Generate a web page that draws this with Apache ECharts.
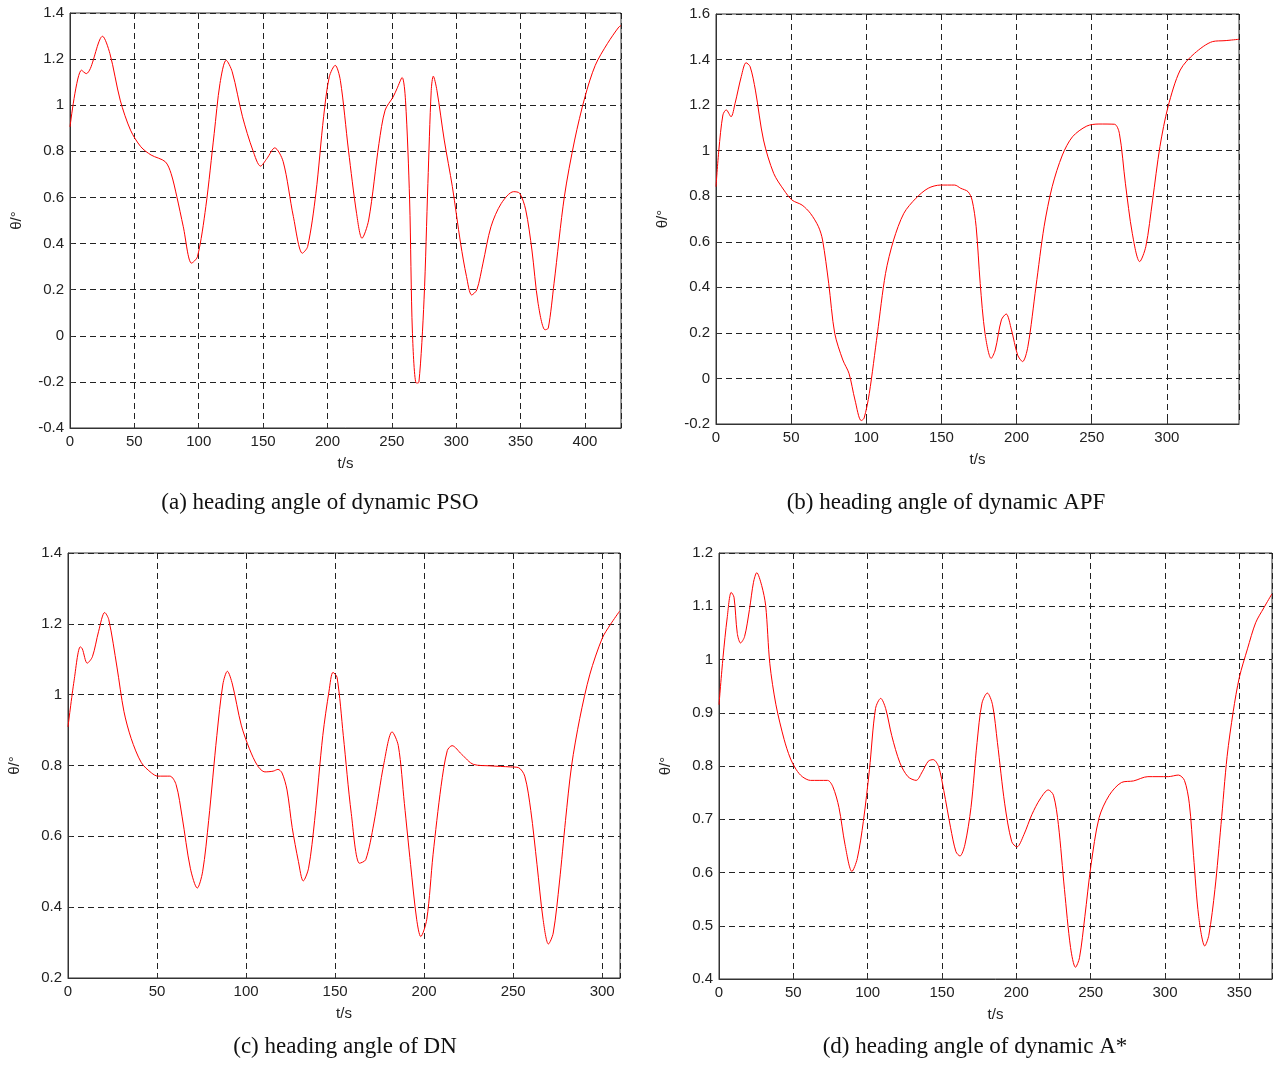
<!DOCTYPE html>
<html>
<head>
<meta charset="utf-8">
<script src="https://cdn.jsdelivr.net/npm/echarts@6/dist/echarts.min.js"></script>
<style>
html,body{margin:0;padding:0;background:#fff;}
#c{width:1277px;height:1066px;}
</style>
</head>
<body>
<div id="c"></div>
<script>
// ---- Data (t in s, theta in degrees) ----
const psoT = [0,8.9,12.7,15.8,25.3,31,39,47,55,63,74,78.5,83,88,94.4,99,105.5,112,116.5,121.3,126,134,142,148,153,159,165.6,173.5,180.5,184.6,191,197,201.4,206,210,216.3,222.6,226.8,232,240,244.8,251,254,258,260.6,263.8,266,269,271,275,278,280.6,282.2,285,290.7,297,303.4,308,312,316,320.8,327,335,344.6,349.3,354,358.8,363.6,369,371.5,376,384,392,400,408,417.4,426.3,428];
const psoV = [0.906,1.152,1.137,1.159,1.299,1.224,1.022,0.892,0.82,0.784,0.755,0.704,0.603,0.473,0.315,0.343,0.56,0.877,1.094,1.195,1.145,0.95,0.805,0.736,0.769,0.815,0.755,0.517,0.358,0.387,0.618,0.95,1.123,1.173,1.108,0.805,0.531,0.423,0.502,0.834,0.979,1.036,1.072,1.12,1.022,0.589,0.011,-0.205,-0.202,0.156,0.661,1.065,1.126,1.065,0.849,0.647,0.401,0.257,0.177,0.199,0.315,0.473,0.574,0.625,0.618,0.546,0.372,0.141,0.026,0.033,0.228,0.603,0.849,1.036,1.173,1.267,1.339,1.345];

const apfT = [0,1.9,4.6,6.8,10,12.7,16.8,20,22.7,26.2,31.6,38.4,45.2,50.6,57.3,62.8,68.2,70.9,75,79,84.4,88.5,92.5,96.6,98.5,102,107.4,112.8,118.2,125,133,141.2,149.3,158.8,162.8,167.7,170.4,173.1,175.8,179,183.1,185.8,189.9,193.1,196.6,200.7,204,207.5,212.9,218.3,223.7,230.5,237.2,246.7,254.8,265.1,268.4,272.4,277,281.9,286,290.5,295.4,300.8,308.9,318.4,330.5,338.7,348];
const apfV = [0.842,1.003,1.157,1.179,1.149,1.208,1.325,1.386,1.369,1.266,1.047,0.9,0.827,0.783,0.761,0.725,0.666,0.608,0.417,0.198,0.081,0.022,-0.095,-0.185,-0.175,-0.066,0.198,0.461,0.608,0.725,0.791,0.835,0.849,0.849,0.835,0.82,0.783,0.666,0.417,0.198,0.088,0.125,0.257,0.283,0.213,0.103,0.074,0.139,0.403,0.666,0.842,0.981,1.061,1.108,1.117,1.116,1.076,0.857,0.637,0.513,0.579,0.783,1.018,1.193,1.354,1.427,1.479,1.483,1.489];

const dnT = [0,3.4,6.9,8,10.8,13.7,17.2,20.6,22.9,27.5,31.4,35.5,41.2,46.9,50.4,57.2,60.7,64.1,68.7,72.6,75.6,79,83.6,87,89.5,92.3,97.3,101.9,106.5,110.6,115.2,117.9,120.2,123,125.9,129.4,132.1,135.1,138.5,143.1,146.6,148.8,151.1,154.6,159.1,163.7,167.2,171.7,177.5,182,185.5,188.9,192.4,195.8,198.1,201.5,205,209.5,213,215.7,221,227.8,237,248.5,253,256.5,259.9,263.4,266.8,269.8,272.5,276,279.4,282.8,287.4,293.1,300,304.6,309.8];
const dnV = [0.909,1.039,1.135,1.13,1.089,1.107,1.179,1.232,1.212,1.078,0.953,0.876,0.808,0.779,0.77,0.77,0.746,0.655,0.51,0.454,0.5,0.645,0.885,1.03,1.066,1.03,0.914,0.847,0.799,0.782,0.784,0.789,0.779,0.731,0.625,0.529,0.474,0.51,0.645,0.885,1.01,1.063,1.049,0.885,0.664,0.524,0.534,0.635,0.808,0.895,0.856,0.693,0.52,0.366,0.317,0.366,0.548,0.741,0.842,0.856,0.832,0.803,0.799,0.796,0.794,0.77,0.673,0.52,0.366,0.296,0.327,0.471,0.645,0.799,0.933,1.058,1.159,1.198,1.236];

const astarT = [0,2.7,5.5,8.2,10.1,12.3,14.5,17.2,20.5,23.2,25.4,28.7,31.4,34.2,38.3,43.8,47.9,52,56,61.5,73,76.6,80.7,84.8,89.4,93,97.1,101.2,105.3,108.8,112.1,116.2,121.7,127.1,132.6,136.7,140.8,144.1,147.7,151.2,155.8,159.4,162.1,165.4,169.5,173.6,176.9,180.5,184,187.3,192.2,196.9,200.4,205.1,210.5,216,221.5,225,228.3,232.4,236.5,239.8,242.5,246.1,250.2,255.7,262.5,270.7,278.9,288.5,302.2,309,313.1,316.4,319.2,322.7,326.8,329.5,333.6,337.7,341.8,345.9,350,355.5,361,366.5,371.9];
const astarV = [0.915,1.004,1.078,1.126,1.117,1.049,1.031,1.043,1.094,1.145,1.163,1.139,1.101,0.992,0.915,0.85,0.815,0.793,0.78,0.773,0.773,0.761,0.722,0.652,0.602,0.626,0.696,0.793,0.908,0.927,0.908,0.857,0.806,0.78,0.773,0.789,0.809,0.812,0.799,0.754,0.684,0.639,0.631,0.652,0.722,0.844,0.918,0.937,0.915,0.844,0.729,0.658,0.648,0.671,0.709,0.738,0.755,0.745,0.69,0.568,0.459,0.422,0.44,0.517,0.613,0.703,0.745,0.769,0.772,0.78,0.78,0.783,0.773,0.729,0.632,0.517,0.462,0.482,0.568,0.69,0.818,0.902,0.966,1.02,1.069,1.097,1.123];

// Axis ticks
const psoXTicks = [0,50,100,150,200,250,300,350,400];
const psoYTicks = [-0.4,-0.2,0,0.2,0.4,0.6,0.8,1.0,1.2,1.4];
const apfXTicks = [0,50,100,150,200,250,300];
const apfYTicks = [-0.2,0,0.2,0.4,0.6,0.8,1.0,1.2,1.4,1.6];
const dnXTicks = [0,50,100,150,200,250,300];
const dnYTicks = [0.2,0.4,0.6,0.8,1.0,1.2,1.4];
const astarXTicks = [0,50,100,150,200,250,300,350];
const astarYTicks = [0.4,0.5,0.6,0.7,0.8,0.9,1.0,1.1,1.2];

const captions = ['(a) heading angle of dynamic PSO','(b) heading angle of dynamic APF','(c) heading angle of DN','(d) heading angle of dynamic A*'];
const xMaxes = [428, 348, 310, 372];
const xName = 't/s';
const yName = 'θ/°';

// ---- Layout ----
const panels = [
  {T: psoT, V: psoV, xt: psoXTicks, yt: psoYTicks, left: 70, top: 13, right: 621, bottom: 428, capX: 320, capY: 503},
  {T: apfT, V: apfV, xt: apfXTicks, yt: apfYTicks, left: 716, top: 14, right: 1239, bottom: 424, capX: 946, capY: 503},
  {T: dnT, V: dnV, xt: dnXTicks, yt: dnYTicks, left: 68, top: 553, right: 620, bottom: 978, capX: 345, capY: 1047},
  {T: astarT, V: astarV, xt: astarXTicks, yt: astarYTicks, left: 719, top: 553, right: 1272, bottom: 979, capX: 975, capY: 1047}
];

const W = 1277, H = 1066;
const grids = [], xAxes = [], yAxes = [], series = [], graphics = [];
const labelFont = {fontFamily: 'Liberation Sans, Arial, sans-serif', fontSize: 15, color: '#222'};
const gridLine = {show: true, lineStyle: {color: '#222', type: [6, 4], width: 1}};

panels.forEach((p, i) => {
  grids.push({left: p.left, top: p.top, width: p.right - p.left, height: p.bottom - p.top,
    show: true, borderColor: '#333', borderWidth: 1, backgroundColor: '#fff', containLabel: false});
  const xInt = p.xt[1] - p.xt[0];
  const yInt = +(p.yt[1] - p.yt[0]).toFixed(3);
  xAxes.push({type: 'value', gridIndex: i, min: p.xt[0], max: xMaxes[i], interval: xInt,
    name: xName, nameLocation: 'middle', nameGap: 28,
    nameTextStyle: {fontFamily: 'Liberation Sans, Arial, sans-serif', fontSize: 15, color: '#222'},
    axisLine: {show: true, onZero: false, lineStyle: {color: '#333', width: 1}},
    axisTick: {show: true, inside: true, length: 4, lineStyle: {color: '#333'}},
    axisLabel: Object.assign({margin: 6, showMaxLabel: xMaxes[i] === p.xt[p.xt.length - 1],
      formatter: v => String(Math.round(v))}, labelFont),
    splitLine: gridLine});
  yAxes.push({type: 'value', gridIndex: i, min: p.yt[0], max: p.yt[p.yt.length - 1], interval: yInt,
    name: yName, nameLocation: 'middle', nameGap: 46,
    nameTextStyle: {fontFamily: 'Liberation Sans, Arial, sans-serif', fontSize: 15, color: '#222'},
    axisLine: {show: true, onZero: false, lineStyle: {color: '#333', width: 1}},
    axisTick: {show: true, inside: true, length: 4, lineStyle: {color: '#333'}},
    axisLabel: Object.assign({margin: 6, formatter: v => {
      const r = Math.round(v * 10) / 10;
      return Number.isInteger(r) ? String(r) : r.toFixed(1);
    }}, labelFont),
    splitLine: gridLine});
  series.push({type: 'line', xAxisIndex: i, yAxisIndex: i, showSymbol: false, smooth: 0.3,
    clip: true,
    lineStyle: {color: '#ff0000', width: 1}, itemStyle: {color: '#ff0000'},
    data: p.T.map((t, k) => [t, p.V[k]])});
  graphics.push({type: 'text', x: p.capX, y: p.capY,
    style: {text: captions[i], textAlign: 'center', textVerticalAlign: 'middle',
      font: '23px "Liberation Serif", "Times New Roman", serif', fill: '#111'}});
});

const chart = echarts.init(document.getElementById('c'), null, {renderer: 'canvas', width: W, height: H});
chart.setOption({
  animation: false,
  backgroundColor: '#fff',
  grid: grids, xAxis: xAxes, yAxis: yAxes, series: series, graphic: graphics
});
</script>
</body>
</html>
